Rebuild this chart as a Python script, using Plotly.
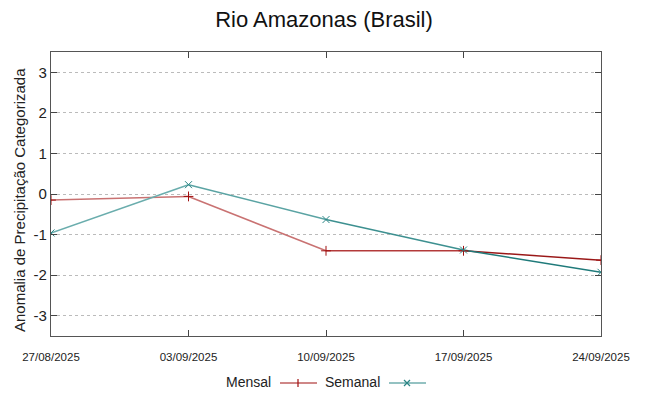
import plotly.graph_objects as go

dates = ["2025-08-27", "2025-09-03", "2025-09-10", "2025-09-17", "2025-09-24"]
tick_labels = ["27/08/2025", "03/09/2025", "10/09/2025", "17/09/2025", "24/09/2025"]
y_ticks = [-3, -2, -1, 0, 1, 2, 3]
y_tick_labels = ["-3", "-2", "-1", "0", "1", "2", "3"]
mensal = [-0.15, -0.06, -1.40, -1.40, -1.63]
semanal = [-0.96, 0.23, -0.63, -1.38, -1.93]

mensal_seg_colors = ["#c97272", "#c97272", "#b33a3a", "#9a1818"]
semanal_seg_colors = ["#6aadad", "#5aa3a3", "#3d9090", "#1f7a7a"]
mensal_color = "#a01010"
semanal_color = "#2a8585"

fig = go.Figure()

for i in range(len(dates) - 1):
    fig.add_trace(go.Scatter(x=dates[i:i + 2], y=mensal[i:i + 2], mode="lines",
                             line=dict(color=mensal_seg_colors[i], width=1.5),
                             showlegend=False, hoverinfo="skip"))
    fig.add_trace(go.Scatter(x=dates[i:i + 2], y=semanal[i:i + 2], mode="lines",
                             line=dict(color=semanal_seg_colors[i], width=1.5),
                             showlegend=False, hoverinfo="skip"))

fig.add_trace(go.Scatter(x=dates, y=mensal, mode="markers", name="Mensal",
                         marker=dict(symbol="cross-thin-open", size=7, color=mensal_color,
                                     line=dict(color=mensal_color, width=1)),
                         showlegend=False))
fig.add_trace(go.Scatter(x=dates, y=semanal, mode="markers", name="Semanal",
                         marker=dict(symbol="x-thin-open", size=7, color=semanal_color,
                                     line=dict(color=semanal_color, width=1)),
                         showlegend=False))


# page-pixel -> plot-domain conversion (plot area spans page x 51..601, y 52..336)
def px_x(p):
    return (p - 51) / 550


def px_y(p):
    return (336 - p) / 284


# legend (gnuplot style: text then sample)
fig.add_annotation(x=px_x(273), y=px_y(382), xref="paper", yref="paper",
                   text="Mensal", showarrow=False, xanchor="right", yanchor="middle",
                   font=dict(size=14, color="#222222", family="Liberation Sans"))
fig.add_annotation(x=px_x(382), y=px_y(382), xref="paper", yref="paper",
                   text="Semanal", showarrow=False, xanchor="right", yanchor="middle",
                   font=dict(size=14, color="#222222", family="Liberation Sans"))

# y-axis title as rotated annotation
fig.add_annotation(x=px_x(19), y=px_y(200), xref="paper", yref="paper",
                   text="Anomalia de Precipitação Categorizada", showarrow=False,
                   textangle=-90, xanchor="center", yanchor="middle",
                   font=dict(size=15, color="#222222", family="Liberation Sans"))

fig.add_shape(type="line", xref="paper", yref="paper", x0=px_x(280), x1=px_x(317),
              y0=px_y(383), y1=px_y(383), line=dict(color=mensal_color, width=1.2))
fig.add_shape(type="line", xref="paper", yref="paper", x0=px_x(298), x1=px_x(298),
              y0=px_y(379), y1=px_y(387), line=dict(color=mensal_color, width=1.2))
fig.add_shape(type="line", xref="paper", yref="paper", x0=px_x(389), x1=px_x(426),
              y0=px_y(383), y1=px_y(383), line=dict(color=semanal_color, width=1.2))
fig.add_shape(type="line", xref="paper", yref="paper", x0=px_x(404), x1=px_x(410),
              y0=px_y(380), y1=px_y(386), line=dict(color=semanal_color, width=1.2))
fig.add_shape(type="line", xref="paper", yref="paper", x0=px_x(404), x1=px_x(410),
              y0=px_y(386), y1=px_y(380), line=dict(color=semanal_color, width=1.2))

fig.update_layout(
    width=641, height=388,
    margin=dict(l=43, r=48, t=44, b=60, autoexpand=False),
    paper_bgcolor="white", plot_bgcolor="white",
    title=dict(text="Rio Amazonas (Brasil)", x=316 / 641, xanchor="center", y=1 - 11 / 388,
               yanchor="middle", font=dict(size=22, color="#111111", family="Liberation Sans")),
    showlegend=False,
    xaxis=dict(
        range=[dates[0], dates[-1]], tickmode="array", tickvals=dates, ticktext=tick_labels,
        showgrid=False, zeroline=False, showline=True, linecolor="#555555", linewidth=1.2,
        mirror="ticks", ticks="inside", ticklen=6, tickcolor="#444444", automargin=False,
        ticklabelstandoff=10,
        tickfont=dict(size=11.5, color="#222222", family="Liberation Sans"),
    ),
    yaxis=dict(
        range=[-3.5, 3.5], tickmode="array", tickvals=y_ticks, ticktext=y_tick_labels,
        showgrid=True, gridcolor="#bbbbbb", griddash="dot", gridwidth=1,
        zeroline=False, showline=True, linecolor="#555555", linewidth=1.2,
        mirror="ticks", ticks="inside", ticklen=6, tickcolor="#444444", automargin=False,
        tickfont=dict(size=15, color="#222222", family="Liberation Sans"),
    ),
)

fig.write_html("out.html")
